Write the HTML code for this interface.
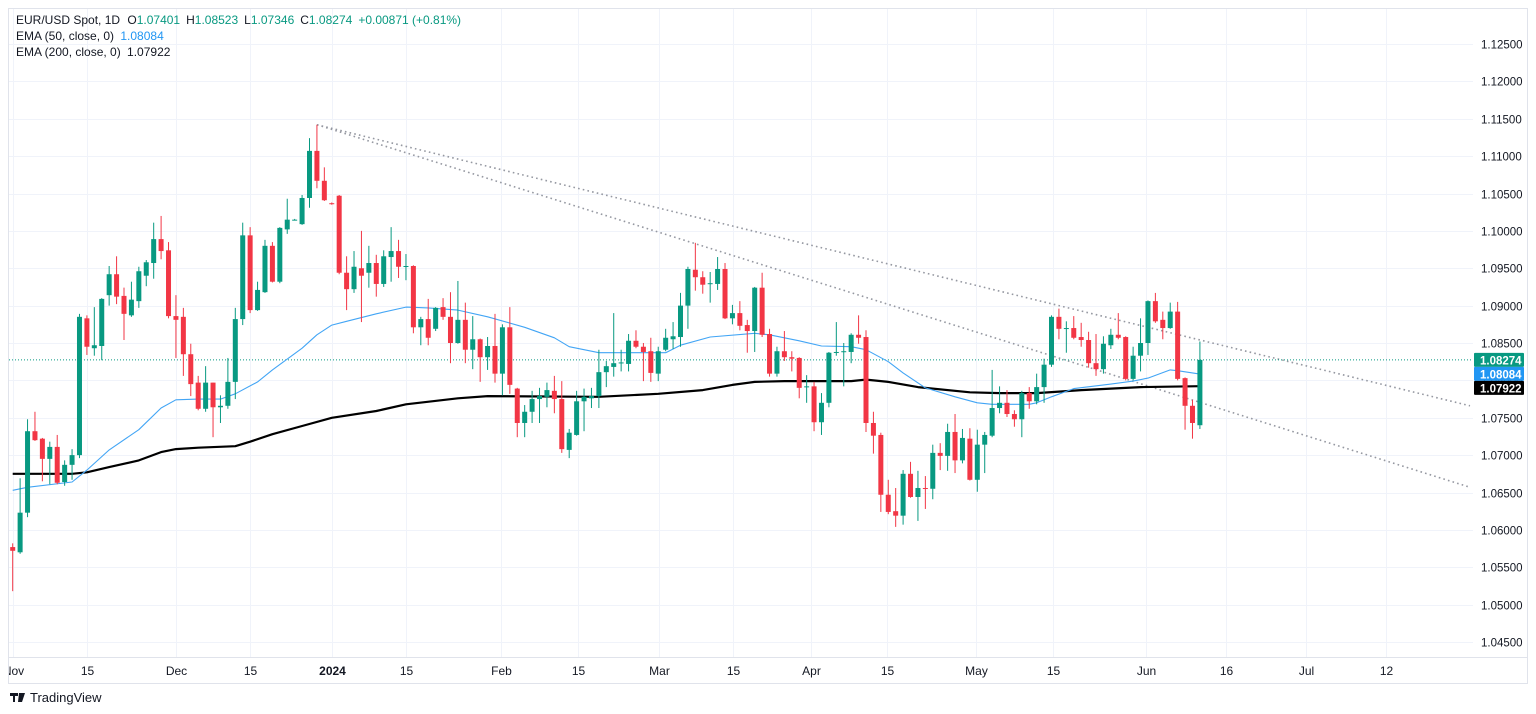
<!DOCTYPE html>
<html><head><meta charset="utf-8"><style>
html,body{margin:0;padding:0;background:#fff;}
body{width:1536px;height:714px;overflow:hidden;font-family:"Liberation Sans",sans-serif;}
svg{display:block}
</style></head><body>
<svg id="chart" width="1536" height="714" viewBox="0 0 1536 714" xmlns="http://www.w3.org/2000/svg">
<defs><clipPath id="plotClip"><rect x="9" y="9" width="1464" height="648"/></clipPath>
<clipPath id="axisClip"><rect x="9" y="658" width="1464" height="25"/></clipPath></defs>
<rect x="8.5" y="8.5" width="1519" height="675" fill="#fff" stroke="#e0e3eb"/>
<line x1="8" y1="657.5" x2="1527" y2="657.5" stroke="#e0e3eb"/>
<g id="grid"></g>
<g id="plot" clip-path="url(#plotClip)"></g>
<g id="yaxis"></g>
<g id="xaxis"></g>
<g font-size="12" fill="#131722">
<text x="16" y="24">EUR/USD Spot, 1D <tspan dx="4">O</tspan><tspan fill="#089981">1.07401</tspan><tspan dx="6">H</tspan><tspan fill="#089981">1.08523</tspan><tspan dx="6">L</tspan><tspan fill="#089981">1.07346</tspan><tspan dx="6">C</tspan><tspan fill="#089981">1.08274</tspan><tspan dx="6" fill="#089981">+0.00871 (+0.81%)</tspan></text>
<text x="16" y="40">EMA (50, close, 0) <tspan dx="3" fill="#2196f3">1.08084</tspan></text>
<text x="16" y="56">EMA (200, close, 0) <tspan dx="3">1.07922</tspan></text>
</g>
<g>
<path d="M10 693h8v3h-3v6h-2v-6h-3z M19 693h3l-2 9h-2z M22 693h3l-3 9h-2z" fill="#131722"/>
<text x="30" y="702" font-size="13" fill="#131722">TradingView</text>
</g>
</svg>
<script>
const opens=[1.0577,1.0570,1.0623,1.0732,1.0722,1.0695,1.0711,1.0664,1.0687,1.0700,1.0883,1.0843,1.0846,1.0914,1.0942,1.0913,1.0887,1.0906,1.0940,1.0957,1.0989,1.0974,1.0886,1.0885,1.0835,1.0797,1.0762,1.0797,1.0764,1.0766,1.0798,1.0882,1.0994,1.0894,1.0918,1.0980,1.0932,1.1002,1.1015,1.1009,1.1044,1.1107,1.1067,1.1037,1.1047,1.0944,1.0922,1.0950,1.0944,1.0957,1.0929,1.0965,1.0973,1.0952,1.0953,1.0871,1.0882,1.0869,1.0898,1.0885,1.0850,1.0881,1.0841,1.0855,1.0831,1.0846,1.0809,1.0871,1.0789,1.0743,1.0758,1.0775,1.0778,1.0786,1.0775,1.0707,1.0727,1.0772,1.0776,1.0779,1.0811,1.0818,1.0823,1.0822,1.0853,1.0845,1.0839,1.0809,1.0841,1.0855,1.0858,1.0900,1.0948,1.0938,1.0929,1.0929,1.0949,1.0883,1.0890,1.0874,1.0866,1.0924,1.0862,1.0809,1.0839,1.0831,1.0830,1.0791,1.0792,1.0744,1.0770,1.0837,1.0838,1.0838,1.0861,1.0858,1.0743,1.0727,1.0647,1.0625,1.0619,1.0675,1.0644,1.0656,1.0655,1.0703,1.0699,1.0731,1.0693,1.0722,1.0667,1.0714,1.0726,1.0763,1.0770,1.0755,1.0748,1.0783,1.0772,1.0791,1.0821,1.0885,1.0869,1.0870,1.0858,1.0854,1.0823,1.0815,1.0847,1.0861,1.0858,1.0802,1.0833,1.0850,1.0906,1.0881,1.0870,1.0892,1.0803,1.0766,1.0740];
const highs=[1.0582,1.0669,1.0748,1.0758,1.0723,1.0718,1.0727,1.0693,1.0708,1.0889,1.0887,1.0898,1.0910,1.0953,1.0966,1.0924,1.0932,1.0952,1.0961,1.1011,1.1020,1.0985,1.0914,1.0897,1.0849,1.0806,1.0819,1.0797,1.0780,1.0830,1.0897,1.1011,1.1005,1.0932,1.0988,1.0985,1.1005,1.1043,1.1016,1.1048,1.1124,1.1142,1.1085,1.1038,1.1048,1.0966,1.0973,1.1000,1.0980,1.0968,1.0974,1.1005,1.0988,1.0969,1.0954,1.0885,1.0909,1.0898,1.0910,1.0918,1.0933,1.0904,1.0886,1.0856,1.0858,1.0889,1.0875,1.0898,1.0790,1.0767,1.0786,1.0790,1.0797,1.0806,1.0799,1.0735,1.0786,1.0789,1.0790,1.0841,1.0826,1.0890,1.0841,1.0862,1.0867,1.0850,1.0857,1.0845,1.0869,1.0878,1.0917,1.0952,1.0984,1.0946,1.0945,1.0965,1.0957,1.0901,1.0906,1.0881,1.0925,1.0944,1.0869,1.0845,1.0866,1.0839,1.0831,1.0807,1.0798,1.0783,1.0838,1.0878,1.0850,1.0863,1.0887,1.0867,1.0758,1.0730,1.0667,1.0656,1.0680,1.0691,1.0679,1.0672,1.0714,1.0716,1.0742,1.0755,1.0735,1.0736,1.0734,1.0731,1.0814,1.0792,1.0787,1.0760,1.0786,1.0791,1.0809,1.0829,1.0887,1.0896,1.0879,1.0886,1.0877,1.0865,1.0862,1.0859,1.0869,1.0890,1.0859,1.0845,1.0883,1.0907,1.0917,1.0892,1.0904,1.0905,1.0804,1.0774,1.0852];
const lows=[1.0518,1.0568,1.0617,1.0719,1.0665,1.0661,1.0661,1.0659,1.0667,1.0696,1.0834,1.0833,1.0827,1.0900,1.0902,1.0854,1.0885,1.0897,1.0926,1.0936,1.0962,1.0883,1.0830,1.0806,1.0779,1.0760,1.0758,1.0724,1.0743,1.0762,1.0775,1.0874,1.0890,1.0893,1.0917,1.0931,1.0930,1.0996,1.1014,1.1008,1.1031,1.1057,1.1040,1.1035,1.0942,1.0894,1.0917,1.0878,1.0924,1.0912,1.0925,1.0932,1.0937,1.0934,1.0863,1.0847,1.0847,1.0866,1.0881,1.0823,1.0849,1.0823,1.0815,1.0798,1.0814,1.0797,1.0780,1.0782,1.0724,1.0724,1.0743,1.0743,1.0764,1.0756,1.0703,1.0696,1.0726,1.0732,1.0763,1.0763,1.0791,1.0805,1.0812,1.0812,1.0843,1.0799,1.0798,1.0799,1.0839,1.0842,1.0845,1.0869,1.0920,1.0916,1.0904,1.0921,1.0882,1.0875,1.0867,1.0837,1.0838,1.0858,1.0805,1.0805,1.0826,1.0812,1.0776,1.0770,1.0732,1.0727,1.0764,1.0833,1.0792,1.0823,1.0849,1.0731,1.0702,1.0624,1.0621,1.0604,1.0607,1.0643,1.0612,1.0628,1.0641,1.0680,1.0679,1.0676,1.0689,1.0666,1.0651,1.0676,1.0724,1.0756,1.0751,1.0738,1.0724,1.0762,1.0768,1.0770,1.0818,1.0855,1.0837,1.0855,1.0845,1.0817,1.0806,1.0809,1.0842,1.0855,1.0800,1.0800,1.0812,1.0834,1.0877,1.0855,1.0869,1.0800,1.0734,1.0722,1.0735];
const closes=[1.0572,1.0623,1.0732,1.0720,1.0695,1.0711,1.0663,1.0687,1.0700,1.0885,1.0845,1.0847,1.0909,1.0942,1.0912,1.0889,1.0908,1.0946,1.0958,1.0989,1.0973,1.0886,1.0881,1.0835,1.0795,1.0762,1.0797,1.0764,1.0766,1.0798,1.0882,1.0994,1.0894,1.0921,1.0980,1.0932,1.1004,1.1015,1.1015,1.1044,1.1107,1.1067,1.1041,1.1036,1.0944,1.0922,1.0952,1.0940,1.0957,1.0929,1.0966,1.0973,1.0952,1.0953,1.0871,1.0882,1.0857,1.0897,1.0885,1.0850,1.0881,1.0841,1.0855,1.0831,1.0846,1.0809,1.0871,1.0794,1.0743,1.0758,1.0775,1.0779,1.0787,1.0775,1.0708,1.0730,1.0772,1.0778,1.0779,1.0811,1.0819,1.0823,1.0824,1.0853,1.0845,1.0838,1.0810,1.0839,1.0857,1.0859,1.0900,1.0949,1.0938,1.0928,1.0930,1.0949,1.0883,1.0890,1.0873,1.0866,1.0924,1.0861,1.0809,1.0839,1.0831,1.0829,1.0790,1.0792,1.0744,1.0770,1.0837,1.0838,1.0839,1.0861,1.0857,1.0743,1.0726,1.0647,1.0624,1.0619,1.0675,1.0644,1.0656,1.0655,1.0703,1.0699,1.0731,1.0693,1.0723,1.0667,1.0714,1.0727,1.0763,1.0770,1.0755,1.0748,1.0783,1.0772,1.0791,1.0821,1.0885,1.0869,1.0870,1.0857,1.0854,1.0823,1.0815,1.0849,1.0861,1.0857,1.0802,1.0833,1.0850,1.0906,1.0879,1.0870,1.0892,1.0802,1.0766,1.0743,1.08274];
const ema50Idx=[0,2,8,10,13,17,20,22,25,28,30,33,35,39,41,43,45,49,53,56,60,64,69,73,75,79,83,88,90,94,100,102,106,109,113,115,118,120,123,127,130,132,137,138,140,143,148,151,153,156,157,160];
const ema50Val=[1.0653,1.0657,1.0664,1.0680,1.0707,1.0734,1.0763,1.0774,1.0775,1.0775,1.0782,1.0798,1.0814,1.0843,1.0861,1.0874,1.0879,1.0889,1.0898,1.0897,1.0894,1.0885,1.0871,1.0857,1.0845,1.0837,1.0837,1.0837,1.0847,1.0858,1.0863,1.0861,1.0853,1.0846,1.0845,1.0841,1.0825,1.0810,1.0790,1.0778,1.0770,1.0768,1.0768,1.0770,1.0778,1.0789,1.0795,1.0799,1.0803,1.0814,1.0813,1.08084];
const ema200Idx=[0,4,8,10,13,17,20,22,25,30,32,35,39,43,49,53,60,64,79,87,93,97,100,104,113,115,118,122,129,133,138,144,152,160];
const ema200Val=[1.0675,1.0675,1.0675,1.0677,1.0684,1.0693,1.0704,1.0708,1.0710,1.0712,1.0718,1.0728,1.0739,1.0750,1.0759,1.0768,1.0776,1.0779,1.0778,1.0782,1.0787,1.0794,1.0798,1.0799,1.0799,1.0801,1.0798,1.0791,1.0784,1.0783,1.0783,1.0787,1.0791,1.07922];
const trendStartIdx=41, trendStartPrice=1.1142;
const trendEndIdx=[196.4,196.4];
const trendEndPrice=[1.0766,1.0657];
const priceTicks=[1.125,1.12,1.115,1.11,1.105,1.10,1.095,1.09,1.085,1.08,1.075,1.07,1.065,1.06,1.055,1.05,1.045];
const timeLabels=["Nov","15","Dec","15","2024","15","Feb","15","Mar","15","Apr","15","May","15","Jun","16","Jul","12"];
const timeLabelIdx=[0,10,22,32,43,53,65.8,76.2,87.1,97.1,107.6,117.8,129.8,140.2,152.7,163.5,174.3,185.1];
const lastClose=1.08274, lastEma50=1.08084, lastEma200=1.07922;

const NS="http://www.w3.org/2000/svg";
function yScale(p){return 44+(1.125-p)*7475;}
function xScale(i){return 12.7+7.42*i;}
function mk(tag,attrs,parent){const e=document.createElementNS(NS,tag);for(const k in attrs)e.setAttribute(k,attrs[k]);parent.appendChild(e);return e;}
const grid=document.getElementById('grid'),plot=document.getElementById('plot'),yaxis=document.getElementById('yaxis'),xaxis=document.getElementById('xaxis');

priceTicks.forEach(p=>{
  const y=Math.round(yScale(p))+0.5;
  const gl=mk('line',{x1:9,x2:1473,y1:y,y2:y,stroke:'#f0f3fa'},grid);
  
  
  const t=mk('text',{x:1481,y:y+4,'font-size':11.5,fill:'#131722'},yaxis);
  
  
  t.textContent=p.toFixed(5);
});
timeLabels.forEach((lab,k)=>{
  const x=Math.round(xScale(timeLabelIdx[k]))+0.5;
  const gl=mk('line',{x1:x,x2:x,y1:9,y2:657,stroke:'#f0f3fa'},grid);
  
  
  const t=mk('text',{x:x,y:675,'font-size':12,fill:'#131722','text-anchor':'middle','font-weight':lab==='2024'?'bold':'normal'},xaxis);
  
  
  if(k===0){t.setAttribute('clip-path','url(#axisClip)');}
  t.textContent=lab;
});

trendEndIdx.forEach((ei,k)=>{
  const l=mk('line',{x1:xScale(trendStartIdx),y1:yScale(trendStartPrice),x2:xScale(ei),y2:yScale(trendEndPrice[k]),stroke:'#9598a1','stroke-width':1.6,'stroke-dasharray':'1.6 3.2'},plot);
  
  
});
const ly=yScale(lastClose);
const pl=mk('line',{x1:9,x2:1473,y1:ly,y2:ly,stroke:'#089981','stroke-dasharray':'1 2'},plot);



function linePath(idx,vals){return idx.map((i,k)=>(k?'L':'M')+xScale(i).toFixed(1)+' '+yScale(vals[k]).toFixed(1)).join(' ');}
const e200=mk('path',{d:linePath(ema200Idx,ema200Val),fill:'none',stroke:'#000','stroke-width':2.2,'stroke-linejoin':'round'},plot);


const e50=mk('path',{d:linePath(ema50Idx,ema50Val),fill:'none',stroke:'#42a5f5','stroke-width':1.1,'stroke-linejoin':'round'},plot);



opens.forEach((o,i)=>{
  const c=closes[i],up=c>=o,col=up?'#089981':'#f23645';
  const x=xScale(i);
  const g=mk('g',{},plot);
  
  
  const w=mk('line',{x1:x,x2:x,y1:yScale(highs[i]),y2:yScale(lows[i]),stroke:col,'stroke-width':1},g);
  
  
  const top=yScale(Math.max(o,c)),bot=yScale(Math.min(o,c));
  const b=mk('rect',{x:x-2.5,y:top,width:5,height:Math.max(1,bot-top),fill:col},g);
  
  
});

[[lastClose,'#089981'],[lastEma50,'#2196f3'],[lastEma200,'#000']].forEach((b,k)=>{
  const cy=yScale(lastClose)+k*14;
  const r=mk('rect',{x:1474,y:cy-7,width:50,height:14,fill:b[1],rx:1},yaxis);
  
  
  const t=mk('text',{x:1480,y:cy+4.5,'font-size':11.5,fill:'#fff','font-weight':'bold'},yaxis);
  
  
  t.textContent=b[0].toFixed(5);
});
</script>
</body></html>
